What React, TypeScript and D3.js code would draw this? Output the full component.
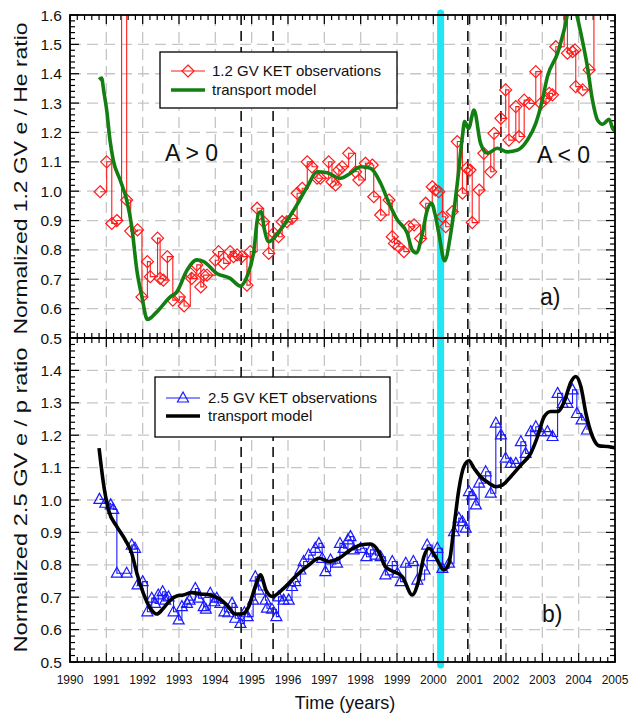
import React, { useEffect, useRef } from 'react'
import * as d3 from 'd3'

// tick labels
const yearLabels = [1990, 1991, 1992, 1993, 1994, 1995, 1996, 1997, 1998, 1999, 2000, 2001, 2002, 2003, 2004, 2005]
const heTickLabels = [0.5, 0.6, 0.7, 0.8, 0.9, 1.0, 1.1, 1.2, 1.3, 1.4, 1.5, 1.6]
const pTickLabels = [0.5, 0.6, 0.7, 0.8, 0.9, 1.0, 1.1, 1.2, 1.3, 1.4]

// marked epochs
const dashedYears = [1994.71, 1995.59, 2000.95, 2001.86]
const reversalYear = 2000.2

// panel a) 1.2 GV e/He  [year, ratio]
const heObs: [number, number][] = [
    [1990.83, 0.998], [1991.01, 1.10], [1991.15, 0.89], [1991.29, 0.90], [1991.42, 2.0], [1991.56, 0.97],
    [1991.67, 0.864], [1991.86, 0.868], [1991.98, 0.64], [1992.13, 0.76], [1992.21, 0.709], [1992.41, 0.84],
    [1992.48, 0.703], [1992.57, 0.697], [1992.68, 0.777], [1992.83, 0.629], [1993.01, 0.64], [1993.14, 0.609],
    [1993.31, 0.72], [1993.35, 0.703], [1993.49, 0.749], [1993.60, 0.674], [1993.68, 0.714], [1993.77, 0.714],
    [1994.00, 0.765], [1994.09, 0.794], [1994.23, 0.754], [1994.41, 0.794], [1994.50, 0.777], [1994.60, 0.783],
    [1994.73, 0.777], [1994.87, 0.68], [1994.96, 0.794], [1995.15, 0.942], [1995.33, 0.896], [1995.47, 0.788],
    [1995.61, 0.857], [1995.74, 0.845], [1995.84, 0.896], [1995.97, 0.896], [1996.11, 0.907], [1996.25, 0.993],
    [1996.39, 1.01], [1996.53, 1.10], [1996.66, 1.083], [1996.80, 1.044], [1996.89, 1.044], [1997.12, 1.10],
    [1997.21, 1.032], [1997.31, 1.021], [1997.40, 1.072], [1997.49, 1.083], [1997.67, 1.129], [1997.86, 1.066],
    [1997.95, 1.038], [1998.13, 1.095], [1998.32, 1.089], [1998.36, 0.981], [1998.55, 0.919], [1998.78, 0.970],
    [1998.87, 0.845], [1998.93, 0.822], [1999.05, 0.811], [1999.19, 0.794], [1999.33, 0.879], [1999.47, 0.885],
    [1999.65, 0.839], [1999.79, 0.959], [1999.97, 1.015], [2000.06, 1.004], [2000.15, 0.998], [2000.25, 0.913],
    [2000.34, 0.879], [2000.52, 0.930], [2000.66, 1.169], [2000.80, 0.993], [2000.92, 1.078], [2001.01, 1.072],
    [2001.07, 0.893], [2001.26, 1.004], [2001.39, 1.129], [2001.58, 1.066], [2001.67, 1.197], [2001.86, 1.248],
    [2001.99, 1.345], [2002.08, 1.174], [2002.27, 1.288], [2002.36, 1.186], [2002.50, 1.31], [2002.64, 1.299],
    [2002.82, 1.407], [2002.96, 1.299], [2003.10, 1.316], [2003.19, 1.333], [2003.28, 1.328], [2003.37, 1.492],
    [2003.60, 2.0], [2003.69, 1.47], [2003.83, 1.475], [2003.90, 1.481], [2003.92, 1.356], [2004.11, 1.345],
    [2004.29, 1.413], [2004.42, 2.0]
]

const heModel: [number, number][] = [
    [1990.80, 1.38], [1990.87, 1.385], [1990.93, 1.34], [1991.01, 1.276], [1991.10, 1.174], [1991.19, 1.106],
    [1991.38, 1.038], [1991.56, 0.97], [1991.70, 0.879], [1991.84, 0.731], [1991.98, 0.64], [1992.13, 0.563],
    [1992.39, 0.589], [1992.76, 0.64], [1992.94, 0.657], [1993.22, 0.731], [1993.49, 0.766], [1993.68, 0.76],
    [1994.04, 0.72], [1994.41, 0.703], [1994.69, 0.677], [1994.87, 0.709], [1995.05, 0.788], [1995.19, 0.925],
    [1995.26, 0.93], [1995.35, 0.87], [1995.47, 0.828], [1995.79, 0.868], [1996.16, 0.936], [1996.53, 1.015],
    [1996.80, 1.066], [1997.08, 1.063], [1997.44, 1.044], [1997.72, 1.061], [1998.00, 1.083], [1998.27, 1.078],
    [1998.55, 1.027], [1998.78, 0.959], [1999.01, 0.902], [1999.28, 0.857], [1999.42, 0.80], [1999.53, 0.79],
    [1999.70, 0.857], [1999.82, 0.93], [1999.95, 0.959], [2000.05, 0.92], [2000.15, 0.857], [2000.31, 0.763],
    [2000.48, 0.857], [2000.66, 1.027], [2000.80, 1.186], [2000.86, 1.237], [2000.97, 1.214], [2001.12, 1.276],
    [2001.30, 1.163], [2001.49, 1.129], [2001.76, 1.146], [2002.04, 1.134], [2002.32, 1.14], [2002.59, 1.174],
    [2002.82, 1.231], [2003.00, 1.31], [2003.14, 1.39], [2003.42, 1.47], [2003.60, 1.549], [2003.82, 1.66],
    [2003.95, 1.60], [2004.06, 1.538], [2004.24, 1.424], [2004.38, 1.31], [2004.52, 1.242], [2004.66, 1.228],
    [2004.84, 1.245], [2004.96, 1.208], [2005.02, 1.22]
]

// panel b) 2.5 GV e/p  [year, ratio]
const pObs: [number, number][] = [
    [1990.81, 1.002], [1990.97, 0.990], [1991.12, 0.985], [1991.19, 0.971], [1991.29, 0.774], [1991.56, 0.774],
    [1991.70, 0.861], [1991.79, 0.851], [1991.86, 0.738], [1992.00, 0.748], [1992.13, 0.655], [1992.25, 0.697],
    [1992.34, 0.681], [1992.43, 0.707], [1992.55, 0.717], [1992.62, 0.691], [1992.71, 0.701], [1992.85, 0.655],
    [1992.99, 0.630], [1993.08, 0.671], [1993.22, 0.681], [1993.29, 0.691], [1993.45, 0.727], [1993.54, 0.697],
    [1993.68, 0.671], [1993.74, 0.663], [1993.86, 0.712], [1993.97, 0.686], [1994.04, 0.697], [1994.14, 0.681],
    [1994.25, 0.655], [1994.36, 0.652], [1994.46, 0.681], [1994.55, 0.635], [1994.69, 0.619], [1994.80, 0.652],
    [1994.89, 0.640], [1995.04, 0.691], [1995.10, 0.763], [1995.19, 0.722], [1995.38, 0.691], [1995.42, 0.666],
    [1995.56, 0.663], [1995.68, 0.640], [1995.74, 0.701], [1995.88, 0.691], [1996.02, 0.691], [1996.11, 0.733],
    [1996.20, 0.748], [1996.34, 0.784], [1996.43, 0.810], [1996.57, 0.830], [1996.75, 0.851], [1996.85, 0.866],
    [1996.94, 0.820], [1997.03, 0.779], [1997.17, 0.815], [1997.35, 0.805], [1997.43, 0.866], [1997.53, 0.851],
    [1997.65, 0.877], [1997.72, 0.887], [1997.81, 0.846], [1998.00, 0.851], [1998.16, 0.825], [1998.27, 0.846],
    [1998.41, 0.830], [1998.55, 0.825], [1998.68, 0.769], [1998.87, 0.810], [1999.01, 0.774], [1999.10, 0.748],
    [1999.24, 0.805], [1999.45, 0.810], [1999.56, 0.753], [1999.76, 0.784], [1999.83, 0.861], [1999.97, 0.825],
    [2000.11, 0.851], [2000.25, 0.789], [2000.43, 0.805], [2000.57, 0.902], [2000.70, 0.944], [2000.80, 0.933],
    [2000.89, 0.913], [2000.98, 1.026], [2001.07, 1.015], [2001.17, 0.985], [2001.26, 1.052], [2001.44, 1.087],
    [2001.58, 1.021], [2001.72, 1.237], [2001.86, 1.201], [2001.99, 1.129], [2002.13, 1.113], [2002.27, 1.113],
    [2002.41, 1.180], [2002.54, 1.144], [2002.68, 1.211], [2002.82, 1.226], [2002.96, 1.211], [2003.14, 1.211],
    [2003.28, 1.196], [2003.42, 1.329], [2003.56, 1.298], [2003.69, 1.298], [2003.83, 1.340], [2003.95, 1.267],
    [2004.08, 1.247], [2004.23, 1.216]
]

const pModel: [number, number][] = [
    [1990.80, 1.16], [1990.92, 1.052], [1991.06, 0.969], [1991.29, 0.918], [1991.52, 0.877], [1991.70, 0.835],
    [1991.84, 0.774], [1992.02, 0.712], [1992.21, 0.666], [1992.39, 0.648], [1992.57, 0.666], [1992.76, 0.691],
    [1992.94, 0.704], [1993.12, 0.707], [1993.35, 0.714], [1993.58, 0.710], [1993.86, 0.707], [1994.14, 0.693],
    [1994.32, 0.676], [1994.55, 0.648], [1994.73, 0.648], [1994.92, 0.671], [1995.10, 0.733], [1995.24, 0.769],
    [1995.40, 0.72], [1995.56, 0.702], [1995.88, 0.727], [1996.25, 0.769], [1996.57, 0.799], [1996.85, 0.820],
    [1997.12, 0.810], [1997.40, 0.820], [1997.72, 0.846], [1998.00, 0.861], [1998.27, 0.864], [1998.50, 0.840],
    [1998.68, 0.794], [1998.91, 0.779], [1999.15, 0.763], [1999.42, 0.707], [1999.60, 0.753], [1999.74, 0.825],
    [1999.88, 0.851], [2000.06, 0.825], [2000.29, 0.784], [2000.43, 0.805], [2000.57, 0.918], [2000.70, 1.031],
    [2000.84, 1.103], [2000.98, 1.121], [2001.12, 1.098], [2001.30, 1.072], [2001.53, 1.052], [2001.72, 1.041],
    [2001.90, 1.046], [2002.13, 1.072], [2002.41, 1.108], [2002.68, 1.144], [2002.87, 1.196], [2003.05, 1.257],
    [2003.23, 1.273], [2003.42, 1.273], [2003.60, 1.303], [2003.79, 1.365], [2003.92, 1.381], [2004.06, 1.350],
    [2004.20, 1.267], [2004.38, 1.196], [2004.57, 1.167], [2004.80, 1.165], [2005.03, 1.160]
]

const FONT = "'Liberation Sans', Arial, sans-serif"

const App = () => {
    const ref = useRef<SVGSVGElement>(null)

    useEffect(() => {
        const svg = d3.select(ref.current)
        svg.selectAll('*').remove()

        const left = 70, right = 615
        const x = d3.scaleLinear().domain([1990, 2005]).range([left, right])
        const yA = d3.scaleLinear().domain([0.5, 1.6]).range([338, 15])
        const yB = d3.scaleLinear().domain([0.5, 1.5]).range([662, 338])

        const diamond = (g: any, cx: number, cy: number, color: string) => {
            const r = 6
            g.append('path')
                .attr('d', `M${cx},${cy - r}L${cx + r},${cy}L${cx},${cy + r}L${cx - r},${cy}Z`)
                .attr('fill', 'none').attr('stroke', color).attr('stroke-width', 1.2)
        }
        const triangle = (g: any, cx: number, cy: number, color: string) => {
            const w = 5.5
            g.append('path')
                .attr('d', `M${cx},${cy - 6}L${cx + w},${cy + 4}L${cx - w},${cy + 4}Z`)
                .attr('fill', 'none').attr('stroke', color).attr('stroke-width', 1.2)
        }

        const panel = (y: d3.ScaleLinear<number, number>, id: string) => {
            const [y0, y1] = y.domain()
            const bottom = y.range()[0], topPx = y.range()[1]
            const g = svg.append('g')

            svg.append('clipPath').attr('id', id)
                .append('rect').attr('x', left).attr('y', topPx).attr('width', right - left).attr('height', bottom - topPx)

            // grid
            const grid = g.append('g').attr('stroke', '#c6c6c6').attr('stroke-width', 1.3).attr('stroke-dasharray', '11,6')
            d3.range(1991, 2005).forEach(yr => {
                grid.append('line').attr('x1', x(yr)).attr('x2', x(yr)).attr('y1', topPx).attr('y2', bottom)
            })
            d3.range(Math.round(y0 * 10) + 1, Math.round(y1 * 10)).forEach(k => {
                grid.append('line').attr('x1', left).attr('x2', right).attr('y1', y(k / 10)).attr('y2', y(k / 10))
            })

            // ticks (inward, all four sides)
            const ticks = g.append('g').attr('stroke', '#000').attr('stroke-width', 1.2)
            d3.range(0, 15 * 5 + 1).forEach(i => {
                const xx = x(1990 + i * 0.2)
                const len = i % 5 === 0 ? 9 : 5
                ticks.append('line').attr('x1', xx).attr('x2', xx).attr('y1', bottom).attr('y2', bottom - len)
                ticks.append('line').attr('x1', xx).attr('x2', xx).attr('y1', topPx).attr('y2', topPx + len)
            })
            const nY = Math.round((y1 - y0) / 0.02)
            d3.range(0, nY + 1).forEach(i => {
                const yy = y(y0 + i * 0.02)
                const len = i % 5 === 0 ? 9 : 5
                ticks.append('line').attr('x1', left).attr('x2', left + len).attr('y1', yy).attr('y2', yy)
                ticks.append('line').attr('x1', right).attr('x2', right - len).attr('y1', yy).attr('y2', yy)
            })
            return g
        }

        panel(yA, 'clipA')
        panel(yB, 'clipB')

        // epochs across both panels
        const epochs = svg.append('g')
        dashedYears.forEach(yr => {
            epochs.append('line').attr('x1', x(yr)).attr('x2', x(yr)).attr('y1', 15).attr('y2', 662)
                .attr('stroke', '#000').attr('stroke-width', 1.5).attr('stroke-dasharray', '10,6')
        })
        epochs.append('line').attr('x1', x(reversalYear)).attr('x2', x(reversalYear)).attr('y1', 13).attr('y2', 665)
            .attr('stroke', '#1fe8f4').attr('stroke-width', 7).attr('stroke-linecap', 'round')

        const series = (y: d3.ScaleLinear<number, number>, clip: string, obs: [number, number][],
            model: [number, number][], obsColor: string, modelColor: string, marker: any) => {
            const g = svg.append('g').attr('clip-path', `url(#${clip})`)
            const step = d3.line<[number, number]>().x(d => x(d[0])).y(d => y(d[1])).curve(d3.curveStepAfter)
            g.append('path').datum(obs).attr('d', step).attr('fill', 'none')
                .attr('stroke', obsColor).attr('stroke-width', 1.1)
            obs.forEach(d => marker(g, x(d[0]), y(d[1]), obsColor))
            const smooth = d3.line<[number, number]>().x(d => x(d[0])).y(d => y(d[1])).curve(d3.curveMonotoneX)
            g.append('path').datum(model).attr('d', smooth).attr('fill', 'none')
                .attr('stroke', modelColor).attr('stroke-width', 3.6).attr('stroke-linejoin', 'round')
        }
        series(yA, 'clipA', heObs, heModel, '#ff1a1a', '#137f13', diamond)
        series(yB, 'clipB', pObs, pModel, '#1a1aff', '#000000', triangle)

        // frames
        svg.append('rect').attr('x', left).attr('y', 15).attr('width', right - left).attr('height', 338 - 15)
            .attr('fill', 'none').attr('stroke', '#000').attr('stroke-width', 1.8)
        svg.append('rect').attr('x', left).attr('y', 338).attr('width', right - left).attr('height', 662 - 338)
            .attr('fill', 'none').attr('stroke', '#000').attr('stroke-width', 1.8)

        // tick labels
        const labels = svg.append('g').attr('font-family', FONT).attr('fill', '#111')
        heTickLabels.forEach(v => {
            labels.append('text').attr('x', 62).attr('y', yA(v)).attr('dy', '0.36em')
                .attr('text-anchor', 'end').attr('font-size', 15.5).text(v.toFixed(1))
        })
        pTickLabels.forEach(v => {
            labels.append('text').attr('x', 62).attr('y', yB(v)).attr('dy', '0.36em')
                .attr('text-anchor', 'end').attr('font-size', 15.5).text(v.toFixed(1))
        })
        yearLabels.forEach(yr => {
            labels.append('text').attr('x', x(yr)).attr('y', 684).attr('text-anchor', 'middle')
                .attr('font-size', 12).text(yr)
        })

        // axis titles
        labels.append('text').attr('x', 345).attr('y', 709).attr('text-anchor', 'middle')
            .attr('font-size', 18).text('Time (years)')
        labels.append('text').attr('transform', `translate(27,${(15 + 338) / 2 + 2}) rotate(-90)`)
            .attr('text-anchor', 'middle').attr('font-size', 19)
            .attr('textLength', 312).attr('lengthAdjust', 'spacingAndGlyphs')
            .text('Normalized 1.2 GV e / He ratio')
        labels.append('text').attr('transform', `translate(27,${(338 + 662) / 2}) rotate(-90)`)
            .attr('text-anchor', 'middle').attr('font-size', 19)
            .attr('textLength', 305).attr('lengthAdjust', 'spacingAndGlyphs')
            .text('Normalized 2.5 GV e / p ratio')

        // annotations
        labels.append('text').attr('x', 165).attr('y', 161).attr('font-size', 23).text('A > 0')
        labels.append('text').attr('x', 537).attr('y', 163).attr('font-size', 23).text('A < 0')
        labels.append('text').attr('x', 540).attr('y', 305).attr('font-size', 23).text('a)')
        labels.append('text').attr('x', 542).attr('y', 622).attr('font-size', 23).text('b)')

        // legends
        const legend = (bx: number, by: number, bw: number, bh: number, r1: number, r2: number,
            lx: number, tx: number, label: string, obsColor: string, modelColor: string, marker: any) => {
            const lg = svg.append('g')
            lg.append('rect').attr('x', bx).attr('y', by).attr('width', bw).attr('height', bh)
                .attr('fill', '#fff').attr('stroke', '#000').attr('stroke-width', 1.3)
            lg.append('line').attr('x1', lx).attr('x2', lx + 34).attr('y1', r1).attr('y2', r1)
                .attr('stroke', obsColor).attr('stroke-width', 1.2)
            marker(lg, lx + 17, r1, obsColor)
            lg.append('line').attr('x1', lx).attr('x2', lx + 34).attr('y1', r2).attr('y2', r2)
                .attr('stroke', modelColor).attr('stroke-width', 3.6)
            lg.append('text').attr('x', tx).attr('y', r1).attr('dy', '0.36em').attr('font-family', FONT)
                .attr('font-size', 15).attr('fill', '#111').text(label)
            lg.append('text').attr('x', tx).attr('y', r2).attr('dy', '0.36em').attr('font-family', FONT)
                .attr('font-size', 15).attr('fill', '#111').text('transport model')
        }
        legend(160, 52, 237, 56, 71, 90, 171, 212, '1.2 GV KET observations', '#ff1a1a', '#137f13', diamond)
        legend(155, 377, 235, 60, 398, 416, 166, 208, '2.5 GV KET observations', '#1a1aff', '#000000', triangle)
    }, [])

    return (
        <svg ref={ref} width={630} height={716} style={{ position: 'absolute', left: 0, top: 0, background: '#fff' }} />
    )
}

export default App
